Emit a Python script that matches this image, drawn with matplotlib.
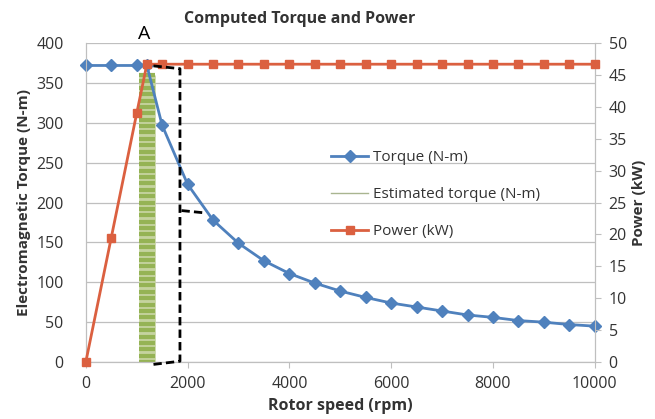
import numpy as np
import matplotlib
matplotlib.use("Agg")
import matplotlib.pyplot as plt
from matplotlib.lines import Line2D

plt.rcParams["font.family"] = ["Open Sans", "DejaVu Sans"]

# data
speed = [0, 500, 1000, 1200, 1500, 2000, 2500, 3000, 3500, 4000, 4500, 5000,
         5500, 6000, 6500, 7000, 7500, 8000, 8500, 9000, 9500, 10000]
torque = [372, 372, 372, 372, 297, 223, 178, 149, 127, 111, 99, 89,
          81, 74, 69, 64, 59, 56, 52, 50, 47, 45]
power = [0, 19.5, 39.0, 46.7, 46.7, 46.7, 46.7, 46.7, 46.7, 46.7, 46.7, 46.7,
         46.7, 46.7, 46.7, 46.7, 46.7, 46.7, 46.7, 46.7, 46.7, 46.7]
est_speed = 1200
est_torque = [0, 8, 16, 24, 32, 40, 48, 56, 64, 72, 80, 88, 96, 104, 112, 120,
              128, 136, 144, 152, 160, 168, 176, 184, 192, 200, 208, 216, 224,
              232, 240, 248, 256, 264, 272, 280, 288, 296, 304, 312, 320, 328,
              336, 344, 352, 360]
# hand-drawn dashed annotation (speed, torque)
box_x = [1330, 1850, 1850, 1250]
box_y = [-3, 1, 368, 372]
mark_x = [1880, 2350]
mark_y = [190, 187]

c_torque = "#4F81BD"
c_power = "#DB6040"
c_est = "#95B355"
grey = "#BFBFBF"
txt = "#333333"

fig = plt.figure(figsize=(6.55, 4.19), dpi=100)
ax = fig.add_axes([0.131, 0.136, 0.777, 0.761])
ax2 = ax.twinx()

ax.plot([est_speed] * len(est_torque), est_torque, color="#C5D3A0", lw=12,
        zorder=1.9, solid_capstyle="butt")
ax.plot([est_speed] * len(est_torque), est_torque, color=c_est, lw=0,
        marker="_", ms=12, mew=3, zorder=2)
ax.plot(speed, torque, color=c_torque, lw=2, marker="D", ms=6, zorder=3,
        clip_on=False)
ax2.plot(speed, power, color=c_power, lw=2, marker="s", ms=5.5, zorder=3,
         clip_on=False)
ax2.plot(box_x, box_y, transform=ax.transData, color="black", lw=2,
         ls=(0, (3, 1.5)), zorder=4, clip_on=False)
ax2.plot(mark_x, mark_y, transform=ax.transData, color="black", lw=2,
         ls=(0, (3, 1.5)), zorder=4)

ax.set_xlim(0, 10000)
ax.set_ylim(0, 400)
ax2.set_ylim(0, 50)
ax.set_xticks(np.arange(0, 10001, 2000))
ax.set_yticks(np.arange(0, 401, 50))
ax2.set_yticks(np.arange(0, 51, 5))
ax.grid(axis="y", color=grey, lw=0.9)
ax.set_axisbelow(True)

for a in (ax, ax2):
    for s in a.spines.values():
        s.set_color(grey)
    a.spines["top"].set_visible(False)
ax.tick_params(axis="y", length=0, labelsize=11.5, colors=txt, pad=16)
ax.tick_params(axis="x", length=4, color=grey, labelsize=11.5, colors=txt,
               pad=6)
ax2.tick_params(axis="y", length=4, color=grey, labelsize=11.5, colors=txt,
                pad=6)

ax.set_xlabel("Rotor speed (rpm)", fontsize=11.5, fontweight="bold", color=txt)
ax.xaxis.set_label_coords(0.5, -0.112)
ax.set_ylabel("Electromagnetic Torque (N-m)", fontsize=11, fontweight="bold",
              color=txt, labelpad=4)
ax2.set_ylabel("Power (kW)", fontsize=11, fontweight="bold", color=txt,
               labelpad=4)
fig.text(0.458, 0.955, "Computed Torque and Power", ha="center", va="center",
         fontsize=11.5, fontweight="bold", color=txt)
ax.text(1150, 400, "A", ha="center", va="bottom", fontsize=14, color="black")

handles = [
    Line2D([], [], color=c_torque, lw=2, marker="D", ms=6),
    Line2D([], [], color="#A9B590", lw=1),
    Line2D([], [], color=c_power, lw=2, marker="s", ms=5.5),
]
labels = ["Torque (N-m)", "Estimated torque (N-m)", "Power (kW)"]
ax2.legend(handles, labels, loc="upper left", bbox_to_anchor=(0.485, 0.675),
           bbox_transform=fig.transFigure, frameon=False, fontsize=11,
           labelspacing=1.45, handlelength=2.4, handletextpad=0.3,
           labelcolor=txt)

fig.savefig("out.png", dpi=100)
plt.close()
